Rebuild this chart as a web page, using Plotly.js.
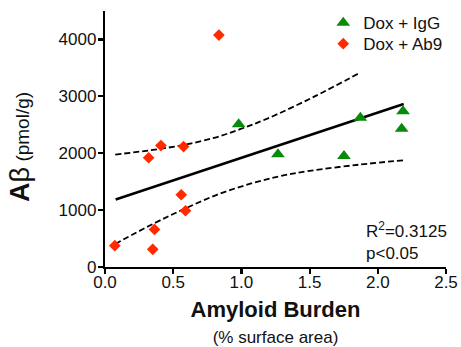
<!DOCTYPE html>
<html>
<head>
<meta charset="utf-8">
<script src="https://cdn.plot.ly/plotly-3.0.1.min.js"></script>
<style>html,body{margin:0;padding:0;background:#fff;}#chart{width:461px;height:347px;}</style>
</head>
<body>
<div id="chart"></div>
<script>
// Dox + IgG (green triangles)
const igX = [0.98, 1.268, 1.752, 1.872, 2.185, 2.175];
const igY = [2508, 1982, 1952, 2624, 2736, 2431];
// Dox + Ab9 (red diamonds)
const abX = [0.072, 0.32, 0.35, 0.363, 0.41, 0.559, 0.576, 0.59, 0.835];
const abY = [375, 1920, 310, 661, 2135, 1270, 2117, 989, 4077];
// Linear fit
const fitX = [0.078, 2.19];
const fitY = [1187, 2866];
// 95% confidence bands
const upperX = [0.075, 0.33, 0.57, 0.8, 0.99, 1.19, 1.53, 1.86];
const upperY = [1977, 2052, 2143, 2270, 2422, 2608, 2990, 3403];
const lowerX = [0.075, 0.351, 0.571, 0.816, 1.06, 1.28, 1.5, 1.867, 2.185];
const lowerY = [405, 757, 1009, 1265, 1460, 1595, 1690, 1800, 1875];
const xTicks = [0, 0.5, 1, 1.5, 2, 2.5];
const yTicks = [0, 1000, 2000, 3000, 4000];
const statsText = "R<sup>2</sup>=0.3125<br>p&lt;0.05";

const FONT = "Liberation Sans, Arial, Helvetica, sans-serif";

const traces = [
  {x: upperX, y: upperY, mode: 'lines', line: {color: '#000', width: 1.8, dash: '6px,3px', shape: 'spline'}, showlegend: false, hoverinfo: 'skip'},
  {x: lowerX, y: lowerY, mode: 'lines', line: {color: '#000', width: 1.8, dash: '6px,3px', shape: 'spline'}, showlegend: false, hoverinfo: 'skip'},
  {x: fitX, y: fitY, mode: 'lines', line: {color: '#000', width: 2.6}, showlegend: false, hoverinfo: 'skip'},
  {x: igX, y: igY, mode: 'markers', name: 'Dox + IgG', legend: 'legend', marker: {symbol: 'triangle-up', size: 12, color: '#0a8a0a'}, cliponaxis: false},
  {x: abX, y: abY, mode: 'markers', name: 'Dox + Ab9', legend: 'legend2', marker: {symbol: 'diamond', size: 9, color: '#ff2a00'}, cliponaxis: false}
];

const legendBase = {x: 0.64, xanchor: 'left', yanchor: 'top', font: {size: 17}, bgcolor: 'rgba(0,0,0,0)', itemwidth: 30};

const layout = {
  width: 461, height: 347,
  margin: {l: 105, r: 15, t: 11, b: 80, autoexpand: false},
  paper_bgcolor: '#fff', plot_bgcolor: '#fff',
  font: {family: FONT, size: 17, color: '#111'},
  showlegend: true,
  legend: Object.assign({}, legendBase, {y: 1.023}),
  legend2: Object.assign({}, legendBase, {y: 0.941}),
  xaxis: {
    range: [0, 2.5], tickvals: xTicks, tickformat: '.1f', automargin: false,
    showgrid: false, zeroline: false, showline: true, linecolor: '#000', linewidth: 2.2,
    ticks: 'outside', ticklen: 5, tickwidth: 2.2, tickcolor: '#000',
    tickfont: {size: 17}, ticklabelstandoff: -7,
    title: {text: '<span style="font-size:22px"><b>Amyloid Burden</b></span><br><span style="font-size:17px">(% surface area)</span>', font: {size: 20}, standoff: 19}
  },
  yaxis: {
    range: [0, 4500], tickvals: yTicks, automargin: false,
    showgrid: false, zeroline: false, showline: true, linecolor: '#000', linewidth: 2.2,
    ticks: 'outside', ticklen: 5, tickwidth: 2.2, tickcolor: '#000',
    tickfont: {size: 17}, ticklabelstandoff: -2,
    title: {text: '<b>A</b>β<span style="font-size:19px"> (pmol/g)\u00a0\u00a0\u00a0</span>', font: {size: 27}, standoff: 21}
  },
  annotations: [
    {xref: 'paper', yref: 'y', x: 0.76, y: 450, xanchor: 'left', yanchor: 'middle', align: 'left',
     text: statsText, showarrow: false, font: {size: 17}}
  ]
};

Plotly.newPlot('chart', traces, layout, {staticPlot: true, displayModeBar: false});
</script>
</body>
</html>
